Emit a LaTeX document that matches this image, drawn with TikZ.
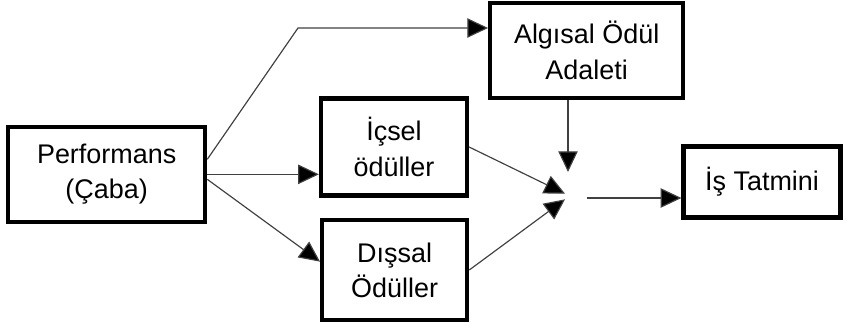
\documentclass[tikz,border=0pt]{standalone}
\usepackage{fontspec}
\setmainfont{Liberation Sans}
\usetikzlibrary{arrows.meta}

\begin{document}
\begin{tikzpicture}[
    kutu/.style={draw, line width=3.6pt, align=center, inner sep=0pt,
                 font=\fontsize{23}{30}\selectfont},
    ok/.style={draw=black!75, line width=1pt,
               -{Triangle[length=0.62cm,width=0.58cm,fill=black]}}
  ]
                \useasboundingbox (0,0) rectangle (25.47,9.96);

                \node[kutu, minimum width=5.91cm, minimum height=2.85cm] (perf) at (3.2,4.73) {Performans\\(Çaba)};
                \node[kutu, minimum width=5.79cm, minimum height=2.85cm] (adalet) at (17.6,8.45) {Algısal Ödül\\Adaleti};
                \node[kutu, minimum width=4.38cm, minimum height=2.91cm] (icsel) at (11.82,5.55) {İçsel\\ödüller};
                \node[kutu, minimum width=4.35cm, minimum height=3cm] (dissal) at (11.84,1.86) {Dışsal\\Ödüller};
                \node[kutu, minimum width=4.71cm, minimum height=2.13cm] (tatmin) at (22.86,4.5) {İş Tatmini};

                \coordinate (kirik) at (8.94,9.12);
                \coordinate (ust) at (17.04,4.8);
                \coordinate (birles1) at (16.95,4.15);
                \coordinate (birles2) at (16.95,3.98);
                \coordinate (cikis) at (17.61,4.02);

                \draw[ok] ([yshift=0.45cm]perf.east) -- (kirik) -- (kirik -| adalet.west);
                \draw[ok] (perf.east) -- (perf.east -| icsel.west);
                \draw[ok] ([yshift=-0.15cm]perf.east) -- ([yshift=0.25cm]dissal.west);

                \draw[ok] (icsel.east) -- (birles1);
                \draw[ok] (dissal.east) -- (birles2);
                \draw[ok] (adalet.south -| ust) -- (ust);
                \draw[ok] (cikis) -- (cikis -| tatmin.west);
            \end{tikzpicture}
\end{document}
